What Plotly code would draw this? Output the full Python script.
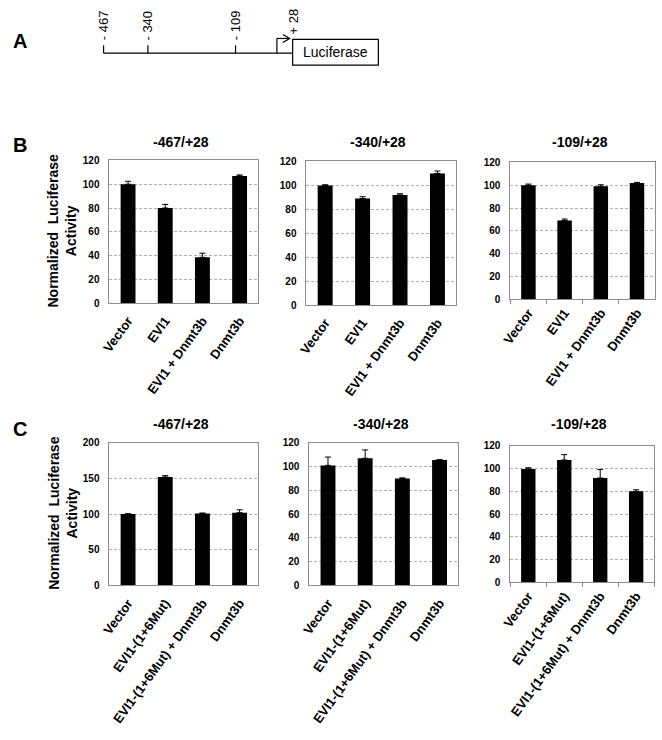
import plotly.graph_objects as go

W, H = 662, 740

# ---------------- data ----------------
cats_B = ["Vector", "EVI1", "EVI1 + Dnmt3b", "Dnmt3b"]
cats_C = ["Vector", "EVI1-(1+6Mut)", "EVI1-(1+6Mut) + Dnmt3b", "Dnmt3b"]
constructs = ["-467/+28", "-340/+28", "-109/+28"]

B_467 = [100, 80, 38.5, 107]
B_467_err = [2.5, 3, 3.5, 0.8]
B_340 = [100, 89, 92, 110]
B_340_err = [0.5, 1.5, 1, 2]
B_109 = [100, 69, 99, 102]
B_109_err = [1, 1.3, 1.4, 0.5]

C_467 = [100, 152, 101, 102]
C_467_err = [0.5, 2, 0.5, 4]
C_340 = [101, 107, 90, 105.5]
C_340_err = [7, 7, 0.5, 0.3]
C_109 = [99.7, 107.5, 91.7, 80]
C_109_err = [1, 4.7, 7.5, 1.4]

site_labels = ["- 467", "- 340", "- 109", "+ 28"]
panel_letters = ["A", "B", "C"]
y_title = "Normalized  Luciferase<br>Activity"

# ---------------- layout helpers (pixel -> paper) ----------------
def px(x):
    return x / W

def py(y):
    return 1 - y / H

FONT = "Liberation Sans, Arial, sans-serif"

# subplot pixel boxes: (x0, x1, ytop, ybottom)
boxes = [
    (101, 252, 157, 302),
    (301, 453, 158, 304),
    (508, 655, 159, 298),
    (101, 252, 444, 589),
    (304, 455, 444, 589),
    (508, 654, 447, 586),
]
series = [
    (cats_B, B_467, B_467_err, 120, 20),
    (cats_B, B_340, B_340_err, 120, 20),
    (cats_B, B_109, B_109_err, 120, 20),
    (cats_C, C_467, C_467_err, 200, 50),
    (cats_C, C_340, C_340_err, 120, 20),
    (cats_C, C_109, C_109_err, 120, 20),
]
tick_panels = {2, 5}

fig = go.Figure()
annotations = []
shapes = []

for i, ((x0, x1, yt, yb), (cats, vals, errs, ymax, dt)) in enumerate(zip(boxes, series)):
    n = i + 1
    xa = "x" if n == 1 else f"x{n}"
    ya = "y" if n == 1 else f"y{n}"
    fig.add_trace(go.Bar(
        x=cats, y=vals, xaxis=xa, yaxis=ya, width=0.4,
        marker=dict(color="black", line=dict(width=0)),
        error_y=dict(type="data", array=errs, arrayminus=[0] * len(errs),
                     symmetric=False, color="black", thickness=1, width=3),
        showlegend=False,
    ))
    xkey = "xaxis" if n == 1 else f"xaxis{n}"
    ykey = "yaxis" if n == 1 else f"yaxis{n}"
    xaxis = dict(
        domain=[px(x0), px(x1)], anchor=ya, type="category",
        range=[-0.5, 3.5], tickangle=-54, showgrid=False,
        showline=True, linecolor="#8c8c8c", linewidth=1, mirror=True,
        tickfont=dict(family=FONT, size=13, color="black", weight="bold"),
        fixedrange=True,
    )
    if i in tick_panels:
        xaxis.update(ticks="outside", tickson="boundaries", ticklen=4, tickcolor="#8c8c8c")
    else:
        xaxis.update(ticks="outside", ticklen=4, tickcolor="rgba(0,0,0,0)")
    yaxis = dict(
        domain=[py(yb), py(yt)], anchor=xa, range=[0, ymax], dtick=dt,
        showgrid=True, gridcolor="#b0b0b0", griddash="3px,2px", gridwidth=1,
        showline=True, linecolor="#8c8c8c", linewidth=1, mirror=True,
        zeroline=False, ticks="outside", ticklen=7, tickcolor="rgba(0,0,0,0)",
        tickfont=dict(family=FONT, size=10, color="black", weight="bold"),
        fixedrange=True,
    )
    fig.update_layout(**{xkey: xaxis, ykey: yaxis})
    # subplot title
    annotations.append(dict(
        text=constructs[i % 3], x=px((x0 + x1) / 2 - 3), y=py(138 if i < 3 else 425),
        xref="paper", yref="paper", showarrow=False, xanchor="center", yanchor="middle",
        font=dict(family=FONT, size=14, color="black", weight="bold"),
    ))

# y-axis titles
for yc in (229, 516):
    annotations.append(dict(
        text=y_title, x=px(53), y=py(yc), xref="paper", yref="paper",
        showarrow=False, textangle=-90, xanchor="center", yanchor="middle",
        font=dict(family=FONT, size=14, color="black", weight="bold"),
    ))

# panel letters
for letter, (lx, ly) in zip(panel_letters, [(10, 36), (10, 141), (10, 430)]):
    annotations.append(dict(
        text=letter, x=px(lx), y=py(ly), xref="paper", yref="paper",
        showarrow=False, xanchor="center", yanchor="middle",
        font=dict(family=FONT, size=20, color="black", weight="bold"),
    ))

# ---------------- schematic (panel A) ----------------
line_style = dict(color="black", width=1.2)
site_x = [95, 140, 229]
base_y = 48
shapes.append(dict(type="line", xref="paper", yref="paper",
                   x0=px(95), x1=px(287), y0=py(base_y), y1=py(base_y), line=line_style))
for sx in site_x:
    shapes.append(dict(type="line", xref="paper", yref="paper",
                       x0=px(sx), x1=px(sx), y0=py(base_y), y1=py(40), line=line_style))
# transcription start arrow
shapes.append(dict(type="line", xref="paper", yref="paper",
                   x0=px(271), x1=px(271), y0=py(base_y), y1=py(33), line=line_style))
shapes.append(dict(type="line", xref="paper", yref="paper",
                   x0=px(271), x1=px(283), y0=py(33), y1=py(33), line=line_style))
shapes.append(dict(type="path", xref="paper", yref="paper",
                   path=f"M {px(277)} {py(29)} L {px(284)} {py(33)} L {px(277)} {py(37)}",
                   line=line_style))
# luciferase box
shapes.append(dict(type="rect", xref="paper", yref="paper",
                   x0=px(287), x1=px(374), y0=py(60), y1=py(34),
                   line=line_style, fillcolor="white"))
annotations.append(dict(
    text="Luciferase", x=px(330.5), y=py(47), xref="paper", yref="paper",
    showarrow=False, xanchor="center", yanchor="middle",
    font=dict(family=FONT, size=14, color="black"),
))
for lab, lx, ly in zip(site_labels, site_x + [288], [20, 20, 20, 16]):
    annotations.append(dict(
        text=lab, x=px(lx), y=py(ly), xref="paper", yref="paper",
        showarrow=False, textangle=-90, xanchor="center", yanchor="middle",
        font=dict(family=FONT, size=13, color="black"),
    ))

fig.update_layout(
    width=W, height=H, autosize=False,
    margin=dict(l=0, r=0, t=0, b=0),
    paper_bgcolor="white", plot_bgcolor="white",
    annotations=annotations, shapes=shapes,
    bargap=0.6, showlegend=False,
)

fig.write_html(
    "out.html",
    config={"displayModeBar": False, "responsive": False},
    post_script="document.body.style.margin='0';document.body.style.overflow='hidden';",
)
